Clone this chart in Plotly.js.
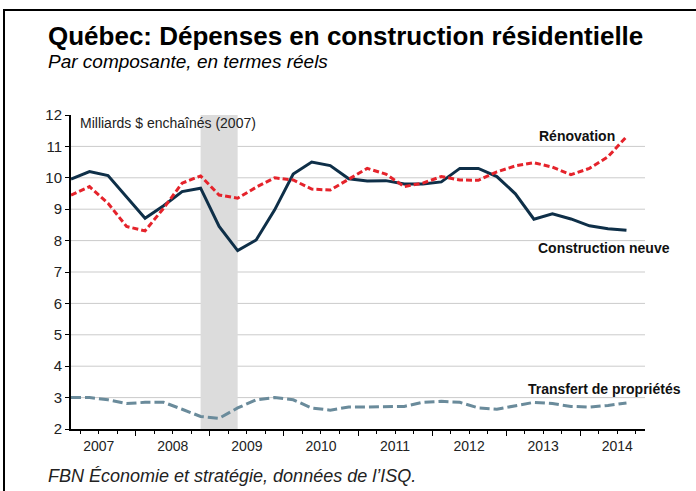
<!DOCTYPE html>
<html>
<head>
<meta charset="utf-8">
<script src="https://cdn.plot.ly/plotly-3.0.1.min.js"></script>
<style>
  html, body { margin: 0; padding: 0; background: #fff; }
  #chart { width: 696px; height: 491px; }
</style>
</head>
<body>
<div id="chart"></div>
<script>
// ---- Data (quarterly, 2007T1 .. 2014T3), milliards $ enchaînés (2007) ----
var firstYear = 2007;
var nQuarters = 31;
var yearLabels = ['2007', '2008', '2009', '2010', '2011', '2012', '2013', '2014'];

var constructionNeuve = [9.96, 10.2, 10.07, 9.4, 8.71, 9.11, 9.56, 9.67, 8.45, 7.68, 8.02, 8.98,
  10.12, 10.5, 10.39, 9.97, 9.9, 9.91, 9.8, 9.8, 9.87, 10.3, 10.3, 10.04, 9.49, 8.68, 8.85,
  8.69, 8.47, 8.38, 8.33];
var renovation = [9.45, 9.72, 9.19, 8.45, 8.31, 9.03, 9.83, 10.06, 9.45, 9.35, 9.7, 10.0,
  9.93, 9.64, 9.61, 9.96, 10.3, 10.12, 9.72, 9.83, 10.04, 9.93, 9.92, 10.19, 10.38, 10.48,
  10.34, 10.1, 10.3, 10.67, 11.31];
var transfert = [3.0, 3.0, 2.93, 2.81, 2.85, 2.85, 2.63, 2.4, 2.34, 2.67, 2.93, 3.0, 2.93,
  2.67, 2.6, 2.7, 2.7, 2.72, 2.72, 2.85, 2.88, 2.85, 2.67, 2.63, 2.75, 2.85, 2.81, 2.72, 2.7,
  2.75, 2.83];

// recession shading (2008T4 .. 2009T2, quarter midpoints)
var recessionStart = 2008.875;
var recessionEnd = 2009.375;

var yTicks = [2, 3, 4, 5, 6, 7, 8, 9, 10, 11, 12];
var gridVals = [3, 4, 5, 6, 7, 8, 9, 10, 11];

// quarter midpoints as decimal years
var quarterX = [];
for (var i = 0; i < nQuarters; i++) {
  quarterX.push(firstYear + Math.floor(i / 4) + (i % 4) * 0.25 + 0.125);
}
var yearMid = yearLabels.map(function (y) { return +y + 0.5; });
var yearBound = yearLabels.slice(1).map(function (y) { return +y; });
var xRange = [firstYear + 0.125, +yearLabels[yearLabels.length - 1] + 0.875];

var FONT = 'Liberation Sans, Arial, sans-serif';

var traces = [
  {
    x: quarterX, y: transfert, type: 'scatter', mode: 'lines',
    line: { color: '#6a8b9b', width: 3, dash: '10px,4px' },
    hoverinfo: 'skip', showlegend: false
  },
  {
    x: quarterX, y: constructionNeuve, type: 'scatter', mode: 'lines',
    line: { color: '#0e2f48', width: 3 },
    hoverinfo: 'skip', showlegend: false
  },
  {
    x: quarterX, y: renovation, type: 'scatter', mode: 'lines',
    line: { color: '#e5232b', width: 3, dash: '6px,3px' },
    hoverinfo: 'skip', showlegend: false
  },
  {
    x: [null], y: [null], xaxis: 'x2', type: 'scatter', mode: 'lines',
    hoverinfo: 'skip', showlegend: false
  }
];

var L = 71, R = 51, T = 115, B = 62, W = 696, H = 491;
var pw = W - L - R, ph = H - T - B;
function px(x) { return (x - L) / pw; }
function py(y) { return (H - B - y) / ph; }

var shapes = [
  {
    type: 'rect', xref: 'x', yref: 'y', x0: recessionStart, x1: recessionEnd, y0: 2, y1: 12,
    fillcolor: '#dcdcdc', line: { width: 0 }, layer: 'below'
  }
];
gridVals.forEach(function (g) {
  shapes.push({
    type: 'line', xref: 'paper', yref: 'y', x0: 0, x1: 1, y0: g, y1: g,
    line: { color: '#cbcbcb', width: 1 }, layer: 'below'
  });
});
// frame (top and left rules)
shapes.push({ type: 'line', xref: 'paper', yref: 'paper', x0: px(3), x1: px(W), y0: py(10), y1: py(10),
  line: { color: '#000', width: 2 } });
shapes.push({ type: 'line', xref: 'paper', yref: 'paper', x0: px(4), x1: px(4), y0: py(9), y1: py(H),
  line: { color: '#000', width: 2 } });

var annotations = [
  { text: '<b>Québec: Dépenses en construction résidentielle</b>', xref: 'paper', yref: 'paper',
    x: px(46), y: py(36), xanchor: 'left', yanchor: 'middle', showarrow: false,
    font: { family: FONT, size: 26, color: '#000' } },
  { text: '<i>Par composante, en termes réels</i>', xref: 'paper', yref: 'paper',
    x: px(46), y: py(62), xanchor: 'left', yanchor: 'middle', showarrow: false,
    font: { family: FONT, size: 19, color: '#000' } },
  { text: '<i>FBN Économie et stratégie, données de l’ISQ.</i>', xref: 'paper', yref: 'paper',
    x: px(46), y: py(476), xanchor: 'left', yanchor: 'middle', showarrow: false,
    font: { family: FONT, size: 18, color: '#222' } },
  { text: 'Milliards $ enchaînés (2007)', xref: 'paper', yref: 'paper',
    x: px(78), y: py(123), xanchor: 'left', yanchor: 'middle', showarrow: false,
    font: { family: FONT, size: 14, color: '#222' } },
  { text: '<b>Rénovation</b>', xref: 'paper', yref: 'paper',
    x: px(617), y: py(136), xanchor: 'right', yanchor: 'middle', showarrow: false,
    font: { family: FONT, size: 14, color: '#111' } },
  { text: '<b>Construction neuve</b>', xref: 'paper', yref: 'paper',
    x: px(536), y: py(248), xanchor: 'left', yanchor: 'middle', showarrow: false,
    font: { family: FONT, size: 14, color: '#111' } },
  { text: '<b>Transfert de propriétés</b>', xref: 'paper', yref: 'paper',
    x: px(526), y: py(389), xanchor: 'left', yanchor: 'middle', showarrow: false,
    font: { family: FONT, size: 14, color: '#111' } }
];

var layout = {
  width: W, height: H, autosize: false,
  margin: { l: L, r: R, t: T, b: B, pad: 0 },
  paper_bgcolor: '#fff', plot_bgcolor: '#fff',
  font: { family: FONT, size: 13, color: '#222' },
  showlegend: false,
  xaxis: {
    range: xRange, tickmode: 'array', tickvals: yearMid, ticktext: yearLabels,
    ticks: 'outside', ticklen: 3, tickwidth: 1, tickcolor: '#000',
    showline: true, linewidth: 2, linecolor: '#000', showgrid: false, zeroline: false,
    tickfont: { family: FONT, size: 14, color: '#222' },
    minor: { tickmode: 'linear', tick0: firstYear + 0.25, dtick: 0.25, ticks: 'outside',
      ticklen: 3, tickwidth: 1, tickcolor: '#000', showgrid: false },
    fixedrange: true
  },
  xaxis2: {
    range: xRange, overlaying: 'x', anchor: 'y', side: 'bottom',
    tickmode: 'array', tickvals: yearBound, ticks: 'outside', ticklen: 6, tickwidth: 1,
    tickcolor: '#000', showticklabels: false, showline: false, showgrid: false, zeroline: false,
    fixedrange: true
  },
  yaxis: {
    range: [2, 12], tickmode: 'array', tickvals: yTicks,
    ticks: 'outside', ticklen: 4, tickwidth: 1, tickcolor: '#000',
    showline: true, linewidth: 2, linecolor: '#000', showgrid: false, zeroline: false,
    tickfont: { family: FONT, size: 15, color: '#222' },
    fixedrange: true
  },
  shapes: shapes,
  annotations: annotations
};

Plotly.newPlot('chart', traces, layout, { displayModeBar: false, staticPlot: true });
</script>
</body>
</html>
